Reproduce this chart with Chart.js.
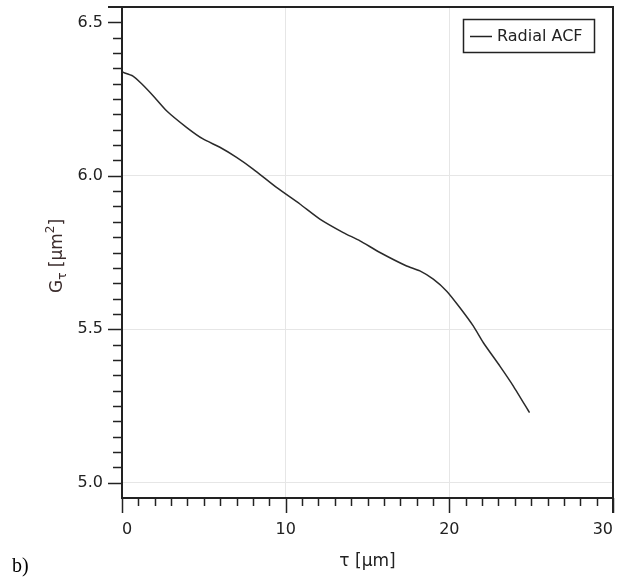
<!DOCTYPE html>
<html>
<head>
<meta charset="utf-8">
<script src="https://cdn.jsdelivr.net/npm/chart.js@4"></script>
<style>
  html,body{margin:0;padding:0;background:#fff;}
  #wrap{width:621px;height:578px;}
</style>
</head>
<body>
<div id="wrap"><canvas id="acfChart" width="621" height="578"></canvas></div>
<script>
// radial ACF
const tau = [0, 0.67, 1.2, 1.9, 2.72, 3.94, 4.95, 5.98, 7.0, 8.01, 9.44, 10.87, 12.09, 13.52, 14.54, 15.76, 17.39, 18.2, 19.02, 19.84, 20.65, 21.47, 22.08, 23.1, 23.92, 24.9];
const acf = [6.338, 6.325, 6.30, 6.261, 6.212, 6.158, 6.12, 6.093, 6.06, 6.022, 5.962, 5.908, 5.859, 5.815, 5.788, 5.75, 5.706, 5.69, 5.663, 5.624, 5.57, 5.51, 5.456, 5.379, 5.314, 5.228];
const xMajor = [0, 10, 20, 30];
const yMajor = [5.0, 5.5, 6.0, 6.5];
const yLabels = ["5.0", "5.5", "6.0", "6.5"];
const seriesName = "Radial ACF";

const font = "DejaVu Sans";
const ink = "#222";

const extras = {
  id: "extras",
  afterDraw(chart){
    const {ctx, chartArea:a, scales:{x, y}} = chart;
    ctx.save();
    ctx.strokeStyle = ink;
    ctx.lineWidth = 2;
    // frame top + right
    ctx.beginPath();
    ctx.moveTo(a.left - 14, a.top); ctx.lineTo(a.right, a.top); ctx.lineTo(a.right, a.bottom + 15);
    ctx.stroke();
    // y ticks
    ctx.lineWidth = 1.5;
    for(let i=0;i<=30;i++){
      const v = 5.0 + i*0.05;
      const py = Math.round(y.getPixelForValue(v)) + 0.5;
      const len = i % 10 == 0 ? 14 : 9;
      ctx.beginPath(); ctx.moveTo(a.left - len, py); ctx.lineTo(a.left, py); ctx.stroke();
    }
    // x ticks
    for(let i=0;i<=30;i++){
      const px = Math.round(x.getPixelForValue(i)) + 0.5;
      const len = i % 10 == 0 ? 15 : 8;
      ctx.beginPath(); ctx.moveTo(px, a.bottom); ctx.lineTo(px, a.bottom + len); ctx.stroke();
    }
    // legend
    ctx.lineWidth = 1.5;
    ctx.strokeRect(463.5, 19.5, 131, 33);
    ctx.beginPath(); ctx.moveTo(470, 36.5); ctx.lineTo(492, 36.5); ctx.stroke();
    ctx.fillStyle = ink;
    ctx.font = "16px '" + font + "'";
    ctx.textBaseline = "middle";
    ctx.textAlign = "left";
    ctx.fillText(chart.data.datasets[0].label, 497, 37);
    // y title with sub/superscript
    ctx.save();
    ctx.translate(62, 256);
    ctx.rotate(-Math.PI/2);
    ctx.fillStyle = "#3a2b2b";
    ctx.textBaseline = "alphabetic";
    const parts = [["G",17,0],["τ",12,4],[" [µm",17,0],["2",12,-8],["]",17,0]];
    let w = 0;
    parts.forEach(p=>{ ctx.font = p[1]+"px '"+font+"'"; w += ctx.measureText(p[0]).width; });
    let cx = -w/2;
    parts.forEach(p=>{
      ctx.font = p[1]+"px '"+font+"'";
      ctx.fillText(p[0], cx, p[2]);
      cx += ctx.measureText(p[0]).width;
    });
    ctx.restore();
    // x title
    ctx.font = "17px '" + font + "'";
    ctx.textAlign = "center";
    ctx.fillStyle = ink;
    ctx.fillText("τ [µm]", (a.left + a.right)/2, 562);
    // panel letter
    ctx.font = "20px 'Liberation Serif'";
    ctx.textAlign = "left";
    ctx.textBaseline = "alphabetic";
    ctx.fillStyle = "#000";
    ctx.fillText("b)", 12, 572);
    ctx.restore();
  }
};

const gridCol = (c) => (c.tick && c.tick.value > 0 && c.tick.value < 30 && c.tick.value != 6.5) ? "#e6e6e6" : "rgba(0,0,0,0)";
const noPad = s => { s.paddingTop = 0; s.paddingBottom = 0; s.paddingLeft = 0; s.paddingRight = 0; };

new Chart(document.getElementById("acfChart"), {
  type: "line",
  data: {
    datasets: [{
      label: seriesName,
      data: tau.map((t,i)=>({x:t, y:acf[i]})),
      borderColor: "#2a2a2a",
      borderWidth: 1.5,
      pointRadius: 0,
      tension: 0.2,
      fill: false
    }]
  },
  options: {
    responsive: false,
    animation: false,
    layout: {padding: {top: 7, right: 8, left: 0, bottom: 0}},
    plugins: {legend: {display: false}, tooltip: {enabled: false}},
    scales: {
      x: {
        type: "linear",
        min: 0, max: 30,
        afterBuildTicks: s => { s.ticks = xMajor.map(v=>({value:v})); },
        afterFit: s => { s.height = 80; noPad(s); },
        grid: {color: gridCol, drawTicks: false},
        border: {color: ink, width: 2},
        ticks: {
          color: ink, padding: 22, align: "inner", maxRotation: 0,
          font: {family: font, size: 16},
          callback: v => String(v)
        }
      },
      y: {
        type: "linear",
        min: 4.95, max: 6.55,
        afterBuildTicks: s => { s.ticks = yMajor.map(v=>({value:v})); },
        afterFit: s => { s.width = 122; noPad(s); },
        grid: {color: gridCol, drawTicks: false},
        border: {color: ink, width: 2},
        ticks: {
          color: ink, padding: 19,
          font: {family: font, size: 16},
          callback: v => yLabels[yMajor.indexOf(v)]
        }
      }
    }
  },
  plugins: [extras]
});
</script>
</body>
</html>
